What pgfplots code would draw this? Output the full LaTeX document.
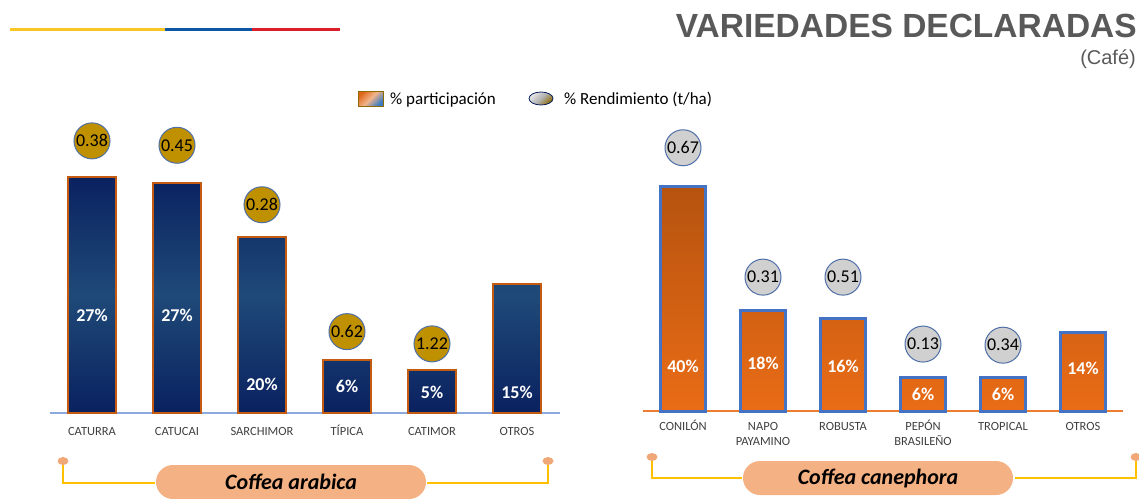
\documentclass[border=0pt]{standalone}
\usepackage{fontspec}
\setmainfont{Carlito}
\newfontfamily\arialfont{Liberation Sans}
\usepackage{pgfplots}
\pgfplotsset{compat=1.18}
\usepackage{pgfplotstable}

\definecolor{navyA}{HTML}{0A2160}
\definecolor{navyB}{HTML}{1F4A78}
\definecolor{barEdgeL}{HTML}{C55A11}
\definecolor{orA}{HTML}{B5530F}
\definecolor{orB}{HTML}{EA6C16}
\definecolor{barEdgeR}{HTML}{4472C4}
\definecolor{goldc}{HTML}{BF9000}
\definecolor{circGray}{HTML}{D0D0D0}
\definecolor{circEdge}{HTML}{4F6FA8}
\definecolor{axisL}{HTML}{8EA9DB}
\definecolor{axisR}{HTML}{ED7D31}
\definecolor{peach}{HTML}{F4B183}
\definecolor{peachDot}{HTML}{F0A878}
\definecolor{brYellow}{HTML}{FFC000}
\definecolor{titleGray}{HTML}{595959}
\definecolor{tickGray}{HTML}{404040}
\definecolor{flagY}{HTML}{F9C623}
\definecolor{flagB}{HTML}{0B56A5}
\definecolor{flagR}{HTML}{DA1F2B}
\definecolor{legOr}{HTML}{E0661A}
\definecolor{legMid}{HTML}{F2B48A}
\definecolor{legBl}{HTML}{3D7CC4}
\definecolor{legBrown}{HTML}{8B6A00}

% x: category index, p: % participacion, lab: printed label,
% ly: label position, cy: circle position, r: rendimiento
\pgfplotstableread{
x p    lab ly   cy   r
0 27.0 27  11.2 31.1 0.38
1 26.3 27  11.2 30.6 0.45
2 20.1 20  3.3  23.8 0.28
3 6.1  6   3.0  9.3  0.62
4 4.9  5   2.4  7.9  1.22
5 14.7 15  2.4  nan  -
}\arabica

\pgfplotstableread{
x p    lab ly   cy   r
0 40.0 40  8.0  46.8 0.67
1 17.8 18  8.4  23.8 0.31
2 16.5 16  8.0  23.8 0.51
3 6.0  6   3.0  11.9 0.13
4 5.9  6   3.0  11.7 0.34
5 14.0 14  7.5  nan  -
}\canephora

\pgfplotsset{
  panel/.style={
    scale only axis, anchor=south west,
    xmin=-0.5, xmax=5.5, ymin=0,
    axis y line=none, axis x line=bottom,
    xtick={0,...,5}, major tick length=0pt,
    typeset ticklabels with strut,
    xticklabel style={font=\fontsize{12.5}{15}\selectfont, text=tickGray, align=center, anchor=north},
    clip=false,
  },
  circ/.style={only marks, mark=*, mark size=18pt,
    nodes near coords, point meta=explicit symbolic,
    every node near coord/.append style={anchor=center, font=\fontsize{18}{20}\selectfont, text=black}},
  blab/.style={only marks, mark=none,
    nodes near coords={\pgfplotspointmeta\%}, point meta=explicit symbolic,
    every node near coord/.append style={anchor=center, font=\bfseries\fontsize{18}{20}\selectfont, text=white}},
}

\begin{document}
\begin{tikzpicture}
\path[use as bounding box] (0pt,0pt) rectangle (1139pt,-498pt);

\begin{axis}[panel, at={(49.5pt,-413pt)}, width=510pt, height=315pt, ymax=36,
  x axis line style={-, axisL, line width=2pt},
  xticklabel style={yshift=-8pt},
  xticklabels={CATURRA,CATUCAI,SARCHIMOR,TÍPICA,CATIMOR,OTROS}]
  \addplot[ybar, bar width=48pt, draw=barEdgeL, line width=2pt,
    top color=navyA, bottom color=navyA, middle color=navyB]
    table[x=x, y=p] {\arabica};
  \addplot[circ, mark options={fill=goldc, draw=circEdge, line width=1pt}]
    table[x=x, y=cy, meta=r] {\arabica};
  \addplot[blab] table[x=x, y=ly, meta=lab] {\arabica};
\end{axis}

\begin{axis}[panel, at={(643pt,-411pt)}, width=480pt, height=303.75pt, ymax=54,
  x axis line style={-, axisR, line width=1.5pt},
  xticklabel style={yshift=-5pt},
  xticklabels={CONILÓN,{NAPO\\PAYAMINO},ROBUSTA,{PEPÓN\\BRASILEÑO},TROPICAL,OTROS}]
  \addplot[ybar, bar width=45pt, draw=barEdgeR, line width=3pt,
    top color=orA, bottom color=orB]
    table[x=x, y=p] {\canephora};
  \addplot[circ, mark options={fill=circGray, draw=circEdge, line width=1pt}]
    table[x=x, y=cy, meta=r] {\canephora};
  \addplot[blab] table[x=x, y=ly, meta=lab] {\canephora};
\end{axis}

\begin{scope}[x=1pt, y=-1pt]
  % flag line
  \draw[flagY, line width=3pt] (10,29) -- (165,29);
  \draw[flagB, line width=3pt] (165,29) -- (252,29);
  \draw[flagR, line width=3pt] (252,29) -- (340,29);
  % title
  \node[anchor=base east, inner sep=0, text=titleGray,
    font=\arialfont\bfseries\fontsize{33.5}{36}\selectfont] at (1137,37) {VARIEDADES DECLARADAS};
  \node[anchor=base east, inner sep=0, text=titleGray,
    font=\arialfont\fontsize{20}{22}\selectfont] at (1136,64) {(Café)};
  % legend
  \shade[top color=legOr, bottom color=legBl, middle color=legMid, shading angle=45]
    (358,91) rectangle (383,106);
  \draw[legBrown, line width=0.8pt] (358,91) rectangle (383,106);
  \node[anchor=west, inner sep=0, font=\fontsize{17}{19}\selectfont] at (390,100) {\% participación};
  \shade[top color=gray!20, bottom color=legBrown, middle color=gray!60, shading angle=45]
    (541,98.5) ellipse (12 and 6.5);
  \draw[navyA, line width=0.8pt] (541,98.5) ellipse (12 and 6.5);
  \node[anchor=west, inner sep=0, font=\fontsize{17}{19}\selectfont] at (564,99) {\% Rendimiento (t/ha)};
  % left bracket
  \draw[brYellow, line width=2.5pt] (63,463) -- (63,483) -- (155,483);
  \draw[brYellow, line width=2.5pt] (427,483) -- (548,483) -- (548,463);
  \fill[peachDot] (63,461) ellipse (5.5 and 4);
  \fill[peachDot] (548,461) ellipse (5.5 and 4);
  \node[fill=peach, rounded corners=17pt, minimum width=270pt, minimum height=34pt, inner sep=0,
    font=\bfseries\itshape\fontsize{22}{24}\selectfont] at (291,482) {Coffea arabica};
  % right bracket
  \draw[brYellow, line width=2.5pt] (652,459) -- (652,478) -- (742,478);
  \draw[brYellow, line width=2.5pt] (1015,478) -- (1136,478) -- (1136,459);
  \fill[peachDot] (652,457) ellipse (5.5 and 4);
  \fill[peachDot] (1136,457) ellipse (5.5 and 4);
  \node[fill=peach, rounded corners=17pt, minimum width=270pt, minimum height=34pt, inner sep=0,
    font=\bfseries\itshape\fontsize{22}{24}\selectfont] at (878,478) {Coffea canephora};
\end{scope}
\end{tikzpicture}
\end{document}
